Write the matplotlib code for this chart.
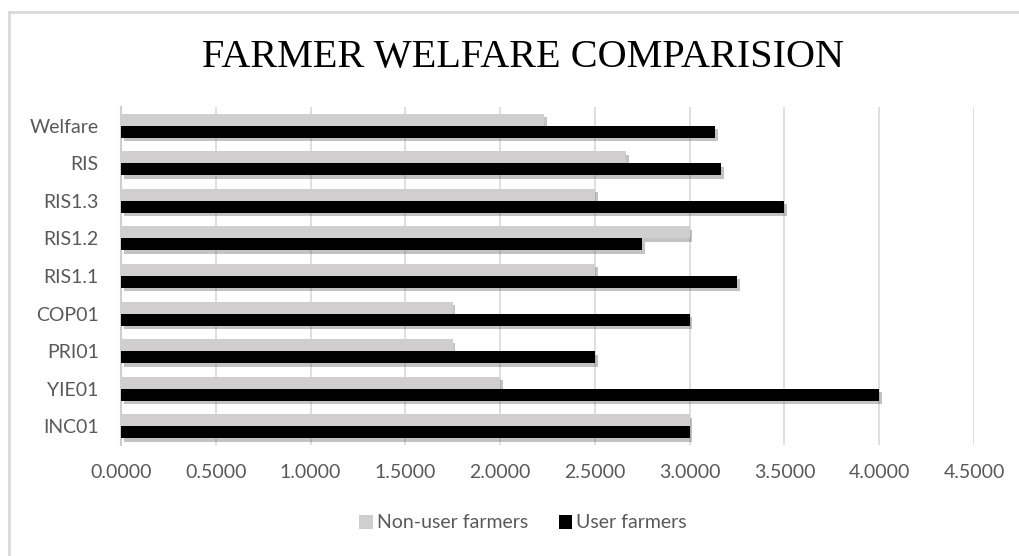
import matplotlib
matplotlib.use("Agg")
import matplotlib.pyplot as plt
import matplotlib.patheffects as pe
from matplotlib.lines import Line2D
import numpy as np

categories = ["INC01", "YIE01", "PRI01", "COP01", "RIS1.1", "RIS1.2", "RIS1.3", "RIS", "Welfare"]
non_user = [3.0, 2.0, 1.75, 1.75, 2.5, 3.0, 2.5, 2.6667, 2.2333]
user = [3.0, 4.0, 2.5, 3.0, 3.25, 2.75, 3.5, 3.1667, 3.1333]
series_names = ["Non-user farmers", "User farmers"]
xticks = [0.0, 0.5, 1.0, 1.5, 2.0, 2.5, 3.0, 3.5, 4.0, 4.5]
title = "FARMER WELFARE COMPARISION"

TXT = "#595959"
GRID = "#d9d9d9"
C_NON = "#d0cece"
C_USER = "#000000"
SANS = ["Lato", "DejaVu Sans"]

fig = plt.figure(figsize=(10.2, 5.56), dpi=100)
ax = fig.add_axes([121/1020, 1-445/556, (974-121)/1020, (445-107)/556])

y = np.arange(len(categories))
h = 0.32
shadow = [pe.SimplePatchShadow(offset=(2, -2.5), shadow_rgbFace="#555555", alpha=0.35), pe.Normal()]
b1 = ax.barh(y + h/2, non_user, height=h, color=C_NON, label=series_names[0], zorder=3)
b2 = ax.barh(y - h/2, user, height=h, color=C_USER, label=series_names[1], zorder=3)
for b in list(b1) + list(b2):
    b.set_path_effects(shadow)

ax.set_xlim(0, 4.5)
ax.set_ylim(-0.5, len(categories) - 0.5)
ax.set_xticks(xticks)
ax.set_xticklabels([f"{v:.4f}" for v in xticks], family=SANS, fontsize=14, color=TXT)
ax.set_yticks(y)
ax.set_yticklabels(categories, family=SANS, fontsize=14, color=TXT)
ax.tick_params(axis="both", length=0)
ax.tick_params(axis="x", pad=14)
ax.tick_params(axis="y", pad=16)
ax.grid(axis="x", color=GRID, linewidth=1.2, zorder=0)
ax.set_axisbelow(True)
for s in ["top", "right", "bottom"]:
    ax.spines[s].set_visible(False)
ax.spines["left"].set_color("#cfcfcf")
ax.spines["left"].set_linewidth(1.5)

fig.text(523/1020, 1-57/556, title, family=["Liberation Serif", "DejaVu Serif"],
         fontsize=29, color="black", ha="center", va="center")

leg = fig.legend(handles=[b1, b2], labels=series_names, loc="center",
                 bbox_to_anchor=(523/1020, 1-523/556), ncol=2, frameon=False,
                 prop={"family": SANS, "size": 14}, handlelength=0.7, handleheight=0.7,
                 handletextpad=0.2, columnspacing=1.6, labelcolor=TXT)
for hdl in leg.legend_handles:
    hdl.set_path_effects([])

# chart border (top and left visible)
fig.add_artist(Line2D([9/1020, 1.0], [1-12/556, 1-12/556], color=GRID, linewidth=2, transform=fig.transFigure))
fig.add_artist(Line2D([9/1020, 9/1020], [1-12/556, 0.0], color=GRID, linewidth=2, transform=fig.transFigure))

fig.savefig("out.png", dpi=100)
